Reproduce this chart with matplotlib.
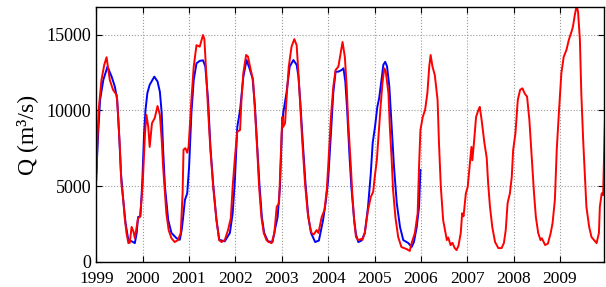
import matplotlib
matplotlib.use('Agg')
import matplotlib.pyplot as plt

# red series (decimal year, Q in m3/s)
red_t = [1999.00, 1999.02, 1999.05, 1999.11, 1999.17, 1999.22, 1999.29, 1999.36, 1999.44, 1999.47,
         1999.51, 1999.54, 1999.58, 1999.61, 1999.65, 1999.69, 1999.72, 1999.76, 1999.80, 1999.83,
         1999.87, 1999.90, 1999.94, 1999.975, 2000.00, 2000.05, 2000.08, 2000.12, 2000.15, 2000.20,
         2000.26, 2000.32, 2000.37, 2000.41, 2000.44, 2000.48, 2000.51, 2000.56, 2000.62, 2000.69,
         2000.76, 2000.82, 2000.86, 2000.88, 2000.92, 2000.96, 2000.99, 2001.05, 2001.10, 2001.16,
         2001.23, 2001.30, 2001.33, 2001.37, 2001.41, 2001.46, 2001.52, 2001.59, 2001.65, 2001.70,
         2001.77, 2001.84, 2001.90, 2001.94, 2001.99, 2002.04, 2002.10, 2002.13, 2002.17, 2002.23,
         2002.27, 2002.33, 2002.38, 2002.42, 2002.47, 2002.51, 2002.56, 2002.61, 2002.67, 2002.72,
         2002.78, 2002.84, 2002.89, 2002.94, 2002.97, 2003.01, 2003.03, 2003.07, 2003.10, 2003.15,
         2003.21, 2003.27, 2003.32, 2003.35, 2003.39, 2003.44, 2003.50, 2003.56, 2003.61, 2003.64,
         2003.69, 2003.75, 2003.79, 2003.86, 2003.92, 2003.97, 2004.00, 2004.06, 2004.11, 2004.16,
         2004.22, 2004.28, 2004.31, 2004.36, 2004.40, 2004.43, 2004.49, 2004.52, 2004.56, 2004.60,
         2004.65, 2004.70, 2004.74, 2004.79, 2004.83, 2004.86, 2004.92, 2004.97, 2005.01, 2005.05,
         2005.08, 2005.13, 2005.17, 2005.21, 2005.24, 2005.30, 2005.33, 2005.37, 2005.40, 2005.45,
         2005.51, 2005.58, 2005.69, 2005.76, 2005.80, 2005.87, 2005.93, 2005.96, 2005.99, 2006.04,
         2006.09, 2006.14, 2006.18, 2006.21, 2006.25, 2006.30, 2006.33, 2006.36, 2006.39, 2006.43,
         2006.48, 2006.56, 2006.59, 2006.64, 2006.68, 2006.73, 2006.77, 2006.81, 2006.86, 2006.89,
         2006.92, 2006.97, 2007.01, 2007.05, 2007.09, 2007.11, 2007.15, 2007.19, 2007.24, 2007.27,
         2007.31, 2007.37, 2007.42, 2007.45, 2007.49, 2007.54, 2007.60, 2007.67, 2007.74, 2007.79,
         2007.83, 2007.87, 2007.92, 2007.96, 2007.99, 2008.04, 2008.09, 2008.14, 2008.19, 2008.24,
         2008.29, 2008.34, 2008.39, 2008.44, 2008.48, 2008.53, 2008.58, 2008.61, 2008.68, 2008.74,
         2008.80, 2008.84, 2008.89, 2008.93, 2008.98, 2009.03, 2009.08, 2009.14, 2009.19, 2009.25,
         2009.28, 2009.32, 2009.36, 2009.39, 2009.43, 2009.46, 2009.50, 2009.54, 2009.57, 2009.63,
         2009.68, 2009.73, 2009.79, 2009.84, 2009.86, 2009.90, 2009.93, 2009.97, 2010.00]
red_q = [5400, 7800, 10000, 12000, 13000, 13500, 12000, 11350, 11000, 9560,
         7380, 5200, 4080, 2950, 1900, 1230, 1250, 2300, 2000, 1550,
         2300, 2880, 2950, 4080, 5200, 8500, 9700, 8900, 7580, 9150,
         9490, 10280, 9700, 8040, 6260, 4520, 3200, 2080, 1550, 1300,
         1430, 1900, 4500, 7400, 7500, 7200, 7600, 10680, 12880, 14300,
         14200, 14970, 14700, 12450, 10020, 7380, 4950, 2750, 1430, 1300,
         1430, 2090, 2880, 4950, 6930, 8590, 8700, 10680, 12450, 13650,
         13550, 12660, 12000, 10020, 7380, 4950, 2950, 1900, 1430, 1300,
         1230, 1900, 3630, 3860, 6260, 9560, 8900, 9150, 10680, 12880,
         14200, 14700, 14300, 12880, 10680, 8040, 5200, 3200, 2290, 1900,
         1800, 2090, 1900, 2950, 3410, 4740, 6260, 9560, 11550, 12660,
         12880, 13990, 14510, 13520, 11550, 9360, 6260, 4500, 2750, 1630,
         1430, 1500, 1450, 1900, 2750, 3410, 4280, 4610, 5730, 6720,
         8040, 10220, 11780, 12770, 12600, 11130, 8900, 6720, 4740, 2950,
         1630, 970, 840, 710, 1230, 1900, 3200, 6260, 8700, 9560,
         10020, 11130, 12880, 13650, 12880, 12330, 11500, 10680, 7840, 4950,
         2750, 1430, 1600, 1100, 1250, 900, 770, 1050, 1900, 3200,
         3000, 4520, 4950, 6260, 7580, 6700, 8040, 9560, 10020, 10220,
         9360, 7840, 6850, 5200, 3630, 2290, 1300, 900, 900, 1230,
         2090, 3860, 4520, 5600, 7380, 8500, 10680, 11350, 11450, 11100,
         10900, 9360, 6930, 4520, 2950, 1900, 1430, 1550, 1100, 1200,
         1900, 2550, 4080, 7380, 10020, 12450, 13520, 13990, 14640, 15200,
         15530, 16300, 16900, 16500, 14640, 11130, 8040, 5600, 3630, 2290,
         1630, 1450, 1230, 1900, 3630, 4520, 4400, 9360, 11000]

# blue series (decimal year, Q in m3/s)
blue_t = [1999.00, 1999.04, 1999.08, 1999.15, 1999.24, 1999.33, 1999.40, 1999.45, 1999.49, 1999.53,
          1999.58, 1999.63, 1999.69, 1999.76, 1999.83, 1999.87, 1999.90, 1999.95, 1999.99, 2000.03,
          2000.06, 2000.10, 2000.15, 2000.25, 2000.32, 2000.37, 2000.41, 2000.44, 2000.48, 2000.55,
          2000.62, 2000.73, 2000.80, 2000.84, 2000.87, 2000.91, 2000.96, 2001.00, 2001.05, 2001.10,
          2001.16, 2001.23, 2001.30, 2001.35, 2001.41, 2001.46, 2001.52, 2001.59, 2001.65, 2001.77,
          2001.88, 2001.94, 2001.99, 2002.04, 2002.10, 2002.17, 2002.24, 2002.30, 2002.37, 2002.42,
          2002.47, 2002.52, 2002.57, 2002.62, 2002.70, 2002.80, 2002.85, 2002.91, 2002.96, 2003.00,
          2003.03, 2003.10, 2003.17, 2003.25, 2003.32, 2003.36, 2003.40, 2003.45, 2003.51, 2003.57,
          2003.63, 2003.72, 2003.80, 2003.89, 2003.95, 2004.00, 2004.06, 2004.11, 2004.16, 2004.22,
          2004.29, 2004.33, 2004.37, 2004.41, 2004.46, 2004.50, 2004.56, 2004.60, 2004.65, 2004.72,
          2004.79, 2004.86, 2004.92, 2004.96, 2005.01, 2005.06, 2005.10, 2005.15, 2005.19, 2005.23,
          2005.27, 2005.32, 2005.37, 2005.42, 2005.48, 2005.55, 2005.62, 2005.73, 2005.80, 2005.85,
          2005.91, 2005.96, 2005.99]
blue_q = [5860, 8500, 10680, 12000, 12880, 12220, 11550, 10680, 8500, 5850,
          4080, 2550, 1430, 1350, 1230, 1900, 2950, 3000, 5200, 8500,
          10020, 11130, 11680, 12220, 11900, 11220, 9800, 7380, 4950, 2750,
          1900, 1550, 1450, 2090, 2880, 4080, 4520, 6260, 9800, 12000,
          13100, 13260, 13300, 12900, 10680, 7600, 5100, 2800, 1450, 1350,
          1900, 3200, 5500, 8900, 10020, 12200, 13320, 12800, 12100, 10300,
          7600, 5000, 2950, 1900, 1350, 1300, 2090, 2950, 4950, 8500,
          9800, 11130, 12880, 13320, 13000, 12200, 10500, 8000, 5200, 3000,
          1900, 1300, 1400, 2750, 4000, 5400, 8500, 11130, 12550, 12550,
          12660, 12770, 11900, 10000, 7000, 4950, 2800, 1800, 1300, 1400,
          1900, 3630, 5860, 7840, 8900, 10220, 10800, 12000, 13000, 13200,
          12900, 11550, 8900, 6260, 3860, 2290, 1430, 1230, 970, 1300,
          2290, 3630, 6060]

years = list(range(1999, 2010))
yticks = [0, 5000, 10000, 15000]

plt.rcParams['font.family'] = ['Liberation Serif', 'DejaVu Serif']

fig = plt.figure(figsize=(6.06, 2.87), dpi=100)
ax = fig.add_axes([0.159, 0.088, 0.8385, 0.8866])

ax.plot(blue_t, blue_q, color='#0000ff', linewidth=1.4)
ax.plot(red_t, red_q, color='#ff0000', linewidth=1.4)

ax.set_xlim(1999, 2009.96)
ax.set_ylim(0, 16800)
ax.set_xticks(years)
ax.set_xticklabels([str(y) for y in years], fontsize=12.5)
ax.set_yticks(yticks)
ax.set_yticklabels([str(v) for v in yticks], fontsize=13)
ax.tick_params(direction='in', top=True, right=True, length=4, width=0.8)
ax.tick_params(axis='x', pad=6.5)
ax.grid(True, linestyle=':', color='#999999', linewidth=0.8)
for s in ax.spines.values():
    s.set_linewidth(1.0)
ax.set_ylabel('Q (m³/s)', fontsize=17, labelpad=6)

fig.savefig('out.png', dpi=100)
